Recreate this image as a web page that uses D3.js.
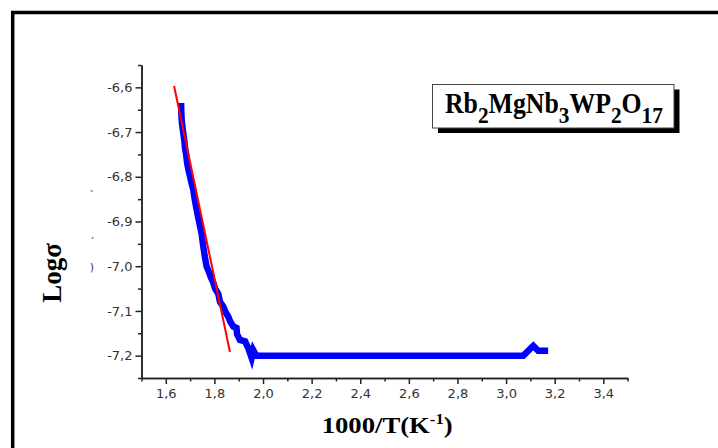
<!DOCTYPE html>
<html>
<head>
<meta charset="utf-8">
<script src="https://cdn.jsdelivr.net/npm/d3@7"></script>
<style>
  body { margin: 0; background: #fff; }
  svg { display: block; }
</style>
</head>
<body>
<svg id="chart" width="718" height="448"></svg>
<script>
// Conductivity data: log(sigma) against 1000/T
const invT = [1.663, 1.664, 1.667, 1.672, 1.676, 1.679, 1.684, 1.688, 1.694, 1.700,
              1.705, 1.713, 1.719, 1.727, 1.733, 1.741, 1.748, 1.754, 1.761, 1.768,
              1.777, 1.786, 1.795, 1.803, 1.816, 1.823, 1.836, 1.846, 1.857, 1.866,
              1.878, 1.891, 1.893, 1.905, 1.926, 1.939, 1.953, 1.960, 1.968, 1.974,
              3.071, 3.112, 3.132, 3.173];
const logSigma = [-6.635, -6.662, -6.683, -6.703, -6.718, -6.735, -6.752, -6.770, -6.786, -6.800,
                  -6.812, -6.829, -6.850, -6.874, -6.890, -6.911, -6.930, -6.955, -6.980, -7.001,
                  -7.012, -7.026, -7.036, -7.050, -7.062, -7.080, -7.090, -7.103, -7.113, -7.125,
                  -7.135, -7.138, -7.152, -7.165, -7.168, -7.183, -7.205, -7.188, -7.196, -7.200,
                  -7.200, -7.178, -7.189, -7.189];

// Linear (Arrhenius) fit segment
const fitInvT = [1.634, 1.864];
const fitLogSigma = [-6.597, -7.192];

// Axis ticks
const xMajorTicks = [1.6, 1.8, 2.0, 2.2, 2.4, 2.6, 2.8, 3.0, 3.2, 3.4];
const xMinorTicks = [1.5, 1.7, 1.9, 2.1, 2.3, 2.5, 2.7, 2.9, 3.1, 3.3, 3.5];
const yMajorTicks = [-7.2, -7.1, -7.0, -6.9, -6.8, -6.7, -6.6];
const yMinorTicks = [-7.25, -7.15, -7.05, -6.95, -6.85, -6.75, -6.65, -6.55];

// Compound label pieces: [text, isSubscript]
const compoundParts = [["Rb", false], ["2", true], ["MgNb", false], ["3", true],
                       ["WP", false], ["2", true], ["O", false], ["17", true]];

const svg = d3.select("#chart");
const serif = "'Liberation Serif', 'Times New Roman', serif";
const sans = "'DejaVu Sans', Verdana, sans-serif";

// outer frame
svg.append("rect")
  .attr("x", 12.7).attr("y", 12.5)
  .attr("width", 900).attr("height", 900)
  .attr("fill", "none").attr("stroke", "#000").attr("stroke-width", 3.5);

const x = d3.scaleLinear().domain([1.5, 3.5]).range([141.5, 627.6]);
const y = d3.scaleLinear().domain([-7.25, -6.55]).range([378, 65]);

const fmt = v => v.toFixed(1).replace(".", ",");

function styleAxis(g) {
  g.select(".domain").attr("stroke", "#222").attr("stroke-width", 1.5);
  g.selectAll(".tick line").attr("stroke", "#222").attr("stroke-width", 1.5);
  g.selectAll(".tick text").attr("fill", "#333")
    .style("font-family", sans).style("font-size", "13px");
}

// x axis
const gx = svg.append("g").attr("transform", `translate(0,${y(-7.25)})`);
gx.call(d3.axisBottom(x).tickValues(xMajorTicks).tickFormat(fmt)
  .tickSize(6).tickSizeOuter(0).tickPadding(4.5));
styleAxis(gx);
const gxm = svg.append("g").attr("transform", `translate(0,${y(-7.25)})`);
gxm.call(d3.axisBottom(x).tickValues(xMinorTicks).tickFormat("").tickSize(3.5).tickSizeOuter(0));
styleAxis(gxm);

// y axis
const gy = svg.append("g").attr("transform", `translate(${x(1.5)},0)`);
gy.call(d3.axisLeft(y).tickValues(yMajorTicks).tickFormat(fmt)
  .tickSize(6).tickSizeOuter(0).tickPadding(3));
styleAxis(gy);
const gym = svg.append("g").attr("transform", `translate(${x(1.5)},0)`);
gym.call(d3.axisLeft(y).tickValues(yMinorTicks).tickFormat("").tickSize(3.5).tickSizeOuter(0));
styleAxis(gym);

// measured curve
const line = d3.line().x(d => x(d[0])).y(d => y(d[1]));
svg.append("path")
  .datum(d3.zip(invT, logSigma))
  .attr("d", line)
  .attr("fill", "none")
  .attr("stroke", "#0000ff")
  .attr("stroke-width", 6.5)
  .attr("stroke-linejoin", "miter")
  .attr("stroke-linecap", "butt");

// fit line
svg.append("path")
  .datum(d3.zip(fitInvT, fitLogSigma))
  .attr("d", line)
  .attr("fill", "none")
  .attr("stroke", "#ff0000")
  .attr("stroke-width", 2);

// compound label box with drop shadow
const box = { x: 432.5, y: 84.5, w: 241.5, h: 43.5 };
svg.append("rect")
  .attr("x", box.x + 5.5).attr("y", box.y + 5)
  .attr("width", box.w).attr("height", box.h).attr("fill", "#000");
svg.append("rect")
  .attr("x", box.x).attr("y", box.y)
  .attr("width", box.w).attr("height", box.h)
  .attr("fill", "#fff").attr("stroke", "#444").attr("stroke-width", 1);

// label drawn at natural spacing, then squeezed horizontally to fit the box
const titleG = svg.append("g");
const title = titleG.append("text")
  .attr("x", 0).attr("y", 0)
  .style("font-family", serif).style("font-weight", "bold").style("font-size", "29px")
  .attr("fill", "#000");
let shifted = false;
compoundParts.forEach(([t, sub]) => {
  const ts = title.append("tspan").text(t);
  if (sub) ts.style("font-size", "24px");
  if (sub && !shifted) { ts.attr("dy", 10.6); shifted = true; }
  else if (!sub && shifted) { ts.attr("dy", -10.6); shifted = false; }
});
const titleW = title.node().getComputedTextLength();
titleG.attr("transform", `translate(445,112.7) scale(${218 / titleW},1)`);

// axis titles
const xTitleG = svg.append("g");
const xTitle = xTitleG.append("text")
  .attr("x", 0).attr("y", 0)
  .style("font-family", serif).style("font-weight", "bold").style("font-size", "24px")
  .attr("fill", "#000");
xTitle.append("tspan").text("1000/T(K");
xTitle.append("tspan").attr("dy", -9).style("font-size", "15px").text("-1");
xTitle.append("tspan").attr("dy", 9).text(")");
const xTitleW = xTitle.node().getComputedTextLength();
xTitleG.attr("transform", `translate(321.7,432.5) scale(${131 / xTitleW},1)`);

svg.append("text")
  .attr("transform", "translate(61,273) rotate(-90)")
  .attr("text-anchor", "middle")
  .style("font-family", serif).style("font-weight", "bold").style("font-size", "27px")
  .attr("fill", "#000")
  .text("Logσ");

// small stray glyphs left of the tick labels
const strayMarks = [["`", 195], ["´", 242], [")", 267]];
svg.selectAll("text.stray").data(strayMarks).enter().append("text")
  .attr("class", "stray")
  .attr("x", 92).attr("y", d => d[1] + 4)
  .attr("text-anchor", "middle")
  .style("font-family", sans).style("font-size", "10px")
  .attr("fill", "#222")
  .text(d => d[0]);
</script>
</body>
</html>
